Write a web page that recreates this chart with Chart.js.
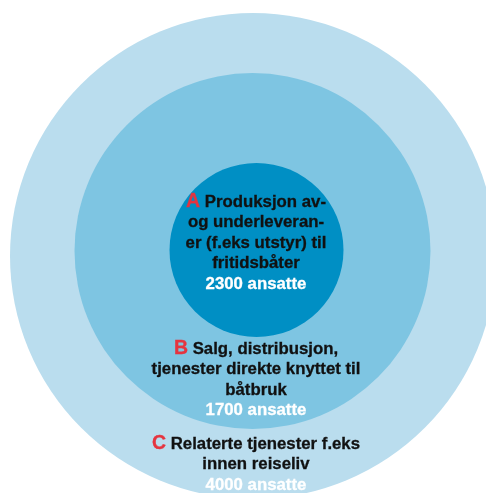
<!DOCTYPE html>
<html>
<head>
<meta charset="utf-8">
<script src="https://cdn.jsdelivr.net/npm/chart.js@4/dist/chart.umd.min.js"></script>
<style>
html,body{margin:0;padding:0;background:#fff}
#wrap{position:relative;width:486px;height:493px;overflow:hidden}
.lbl{position:absolute;left:56px;width:400px;text-align:center;font-family:"Liberation Sans",Arial,sans-serif;font-weight:bold;font-size:16.8px;line-height:20.4px;color:#111;-webkit-text-stroke:0.3px currentColor}
.lbl b{color:#E5343F;font-size:19.5px}
.lbl .n{color:#fff}
</style>
</head>
<body>
<div id="wrap">
<canvas id="c" width="486" height="493"></canvas>
<div id="labels"></div>
</div>
<script>
// rings, drawn outer -> inner
const rings=['C','B','A'];
const employees=[4000,1700,2300];
const ringX=[253,252.5,256.5];
const ringY=[256,251,250];
const ringR=[243,178,87];
const ringColors=['#BADDEE','#7EC5E2','#008FC4'];
const ringText={
  A:['Produksjon av-','og underleveran-','er (f.eks utstyr) til','fritidsbåter'],
  B:['Salg, distribusjon,','tjenester direkte knyttet til','båtbruk'],
  C:['Relaterte tjenester f.eks','innen reiseliv']
};
const labelTop={A:190,B:337,C:432};

new Chart(document.getElementById('c'),{type:'bubble',data:{
  labels:rings,
  datasets:[{data:rings.map((k,i)=>({x:ringX[i],y:ringY[i],r:ringR[i]})),backgroundColor:ringColors,borderWidth:0,hoverBorderWidth:0,clip:false}]},
  options:{responsive:false,animation:false,events:[],layout:{padding:0,autoPadding:false},
    plugins:{legend:{display:false},tooltip:{enabled:false}},
    scales:{x:{type:'linear',min:0,max:486,display:false},y:{type:'linear',min:0,max:493,reverse:true,display:false}}}
});

const lb=document.getElementById('labels');
rings.forEach((k,i)=>{
  const t=ringText[k];
  lb.innerHTML+=`<div class="lbl" style="top:${labelTop[k]}px"><b>${k}</b> ${t.join('<br>')}<br><span class="n">${employees[i]} ansatte</span></div>`;
});
</script>
</body>
</html>
